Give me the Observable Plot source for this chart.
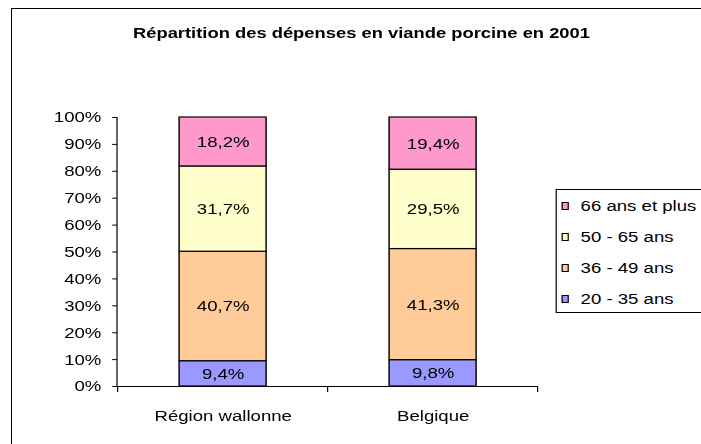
<!DOCTYPE html>
<html>
<head>
<meta charset="utf-8">
<script src="https://cdn.jsdelivr.net/npm/d3@7"></script>
<script src="https://cdn.jsdelivr.net/npm/@observablehq/plot@0.6"></script>
<style>
  html, body { margin: 0; padding: 0; background: white; overflow: hidden; }
  #stage { position: relative; width: 585px; height: 444px; transform: scaleX(1.2); transform-origin: 0 0; font-family: "Liberation Sans", Arial, sans-serif; color: black; }
  #frame { position: absolute; left: 9.2px; top: 8px; width: 700px; height: 600px; border-left: 1.3px solid black; border-top: 1.5px solid black; box-sizing: border-box; pointer-events: none; z-index: 3; }
  #title { position: absolute; left: 0; top: 25.4px; width: 602.5px; text-align: center; font-size: 15.3px; line-height: 15.3px; font-weight: bold; white-space: nowrap; z-index: 2; }
  #chart { position: absolute; left: 0; top: 0; z-index: 1; }
  #legend { position: absolute; left: 462.5px; top: 189px; width: 200px; height: 124px; border: 1px solid black; box-sizing: border-box; background: white; z-index: 2; }
  .item { position: absolute; left: 0; height: 31px; display: flex; align-items: center; font-size: 15.5px; white-space: nowrap; }
  .sw { width: 6.7px; height: 8px; border: 1px solid black; box-sizing: border-box; margin-left: 4px; margin-right: 9.6px; }
</style>
</head>
<body>
<div id="stage">
  <div id="title"></div>
  <div id="chart"></div>
  <div id="legend"></div>
  <div id="frame"></div>
</div>
<script>
const chartTitle = "Répartition des dépenses en viande porcine en 2001";
const regions = ["Région wallonne", "Belgique"];
const ageGroups = ["20 - 35 ans", "36 - 49 ans", "50 - 65 ans", "66 ans et plus"];
const walloniaValues = [9.4, 40.7, 31.7, 18.2];
const belgiumValues = [9.8, 41.3, 29.5, 19.4];
const ageColors = ["#9999FF", "#FFCC99", "#FFFFCC", "#FF99CC"];
const yTicks = [0, 10, 20, 30, 40, 50, 60, 70, 80, 90, 100];

const seriesByRegion = [walloniaValues, belgiumValues];
const rows = [];
regions.forEach((r, i) => {
  ageGroups.forEach((a, j) => rows.push({region: r, age: a, value: seriesByRegion[i][j]}));
});

const fmt = v => v.toFixed(1).replace(".", ",") + "%";

document.getElementById("title").textContent = chartTitle;

function axisLines(index, scales, values, dims) {
  const ns = "http://www.w3.org/2000/svg";
  const g = document.createElementNS(ns, "g");
  g.setAttribute("stroke", "black");
  g.setAttribute("stroke-width", "1");
  const x = scales.x, y = scales.y;
  const dom = (x && x.domain) ? x.domain() : regions;
  const step = (x && x.bandwidth) ? x.bandwidth() : (dims.width - dims.marginLeft - dims.marginRight) / dom.length;
  const edges = dom.map(c => x(c)).concat([x(dom[dom.length - 1]) + step]);
  const y0 = y(0), y1 = y(100);
  const vline = document.createElementNS(ns, "line");
  vline.setAttribute("x1", dims.marginLeft); vline.setAttribute("x2", dims.marginLeft);
  vline.setAttribute("y1", y1); vline.setAttribute("y2", y0);
  g.appendChild(vline);
  for (const e of edges) {
    const t = document.createElementNS(ns, "line");
    t.setAttribute("x1", e); t.setAttribute("x2", e);
    t.setAttribute("y1", y0); t.setAttribute("y2", y0 + 6);
    g.appendChild(t);
  }
  return g;
}

const chart = Plot.plot({
  width: 585,
  height: 444,
  marginLeft: 97.5,
  marginRight: 137.5,
  marginTop: 117,
  marginBottom: 58,
  style: {fontFamily: "'Liberation Sans', Arial, sans-serif", fontSize: "15.5px", background: "transparent", color: "black", overflow: "visible"},
  x: {domain: regions, padding: 0, tickSize: 0, tickPadding: 23, label: null},
  y: {domain: [0, 100], ticks: yTicks, tickFormat: d => d + "%", tickSize: 4, tickPadding: 9.5, label: null},
  color: {domain: ageGroups, range: ageColors},
  marks: [
    Plot.barY(rows, Plot.stackY({x: "region", y: "value", fill: "age", stroke: "black", strokeWidth: 1.2, insetLeft: 51.25, insetRight: 51.25})),
    Plot.text(rows, Plot.stackY({x: "region", y: "value", text: d => fmt(d.value), fill: "black", fontSize: 15.5})),
    Plot.ruleY([0], {stroke: "black", strokeWidth: 1}),
    axisLines
  ]
});
document.getElementById("chart").appendChild(chart);

const legend = document.getElementById("legend");
const order = ageGroups.map((a, i) => i).reverse();
order.forEach((i, k) => {
  const item = document.createElement("div");
  item.className = "item";
  item.style.top = (0.5 + k * 31) + "px";
  const sw = document.createElement("div");
  sw.className = "sw";
  sw.style.background = ageColors[i];
  const lab = document.createElement("span");
  lab.textContent = ageGroups[i];
  item.appendChild(sw);
  item.appendChild(lab);
  legend.appendChild(item);
});
</script>
</body>
</html>
